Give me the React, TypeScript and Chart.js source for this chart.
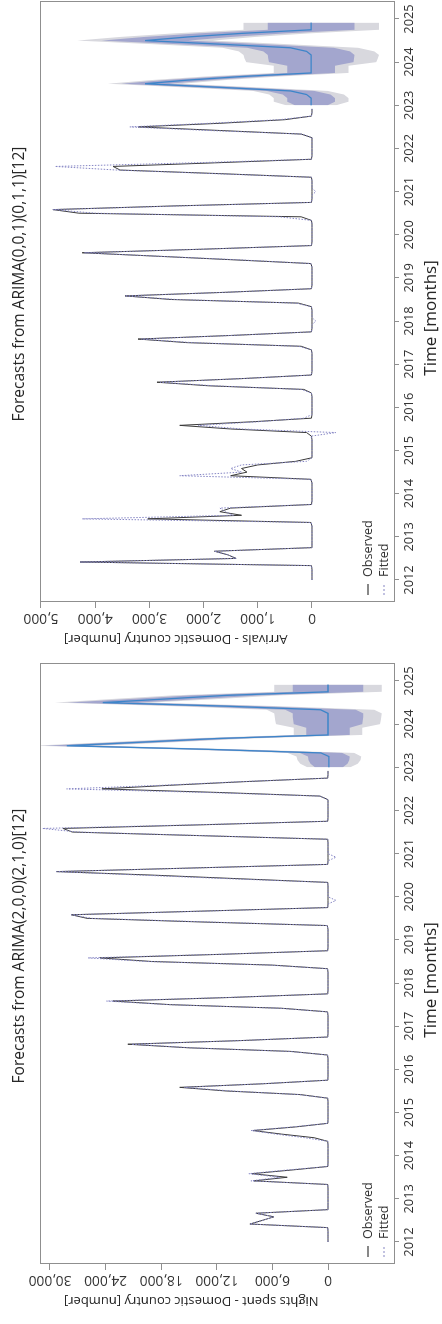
import React, { useEffect, useRef } from "react";
import { Chart, registerables } from "chart.js";

Chart.register(...registerables);

// ---------------- data ----------------
const START_YEAR = 2012;
const yearTicks = [2012, 2013, 2014, 2015, 2016, 2017, 2018, 2019, 2020, 2021, 2022, 2023, 2024, 2025];
const arrivalsTicks = [0, 1000, 2000, 3000, 4000, 5000];
const nightsTicks = [0, 6000, 12000, 18000, 24000, 30000];

// Arrivals - Domestic country, monthly 2012-01 .. 2022-12
const arrivalsObserved = [
  0, 0, 0, 0, 10, 4280, 1400, 1550, 1800, 0, 0, 0,
  0, 0, 0, 0, 20, 3030, 1300, 1700, 1500, 10, 0, 0,
  0, 0, 0, 0, 20, 1500, 1200, 1300, 1000, 300, 0, 0,
  0, 0, 0, 0, 10, 100, 1500, 2440, 1100, 10, 0, 0,
  0, 0, 0, 0, 10, 150, 1900, 2860, 1300, 10, 0, 0,
  0, 0, 0, 0, 10, 200, 2300, 3210, 1500, 10, 0, 0,
  0, 0, 0, 0, 10, 250, 2600, 3450, 1600, 10, 0, 0,
  0, 0, 0, 0, 20, 1400, 2800, 4240, 2000, 10, 0, 0,
  0, 0, 0, 0, 10, 200, 4300, 4780, 2600, 10, 0, 0,
  0, 0, 0, 0, 10, 1700, 3540, 3670, 1800, 10, 0, 0,
  0, 0, 0, 0, 200, 1700, 3210, 1700, 500, 10, 0, 0,
];
const arrivalsFitted = [
  0, 0, 0, 0, 10, 4280, 1400, 1550, 1800, 0, 0, 0,
  0, 0, 0, 0, 15, 4240, 1450, 1600, 1700, 5, 0, 0,
  0, 0, 0, 0, 20, 2440, 1300, 1500, 1300, 100, 0, 0,
  0, 0, 0, 0, 20, -440, 1300, 2100, 1000, 150, 0, 0,
  0, 0, 0, 0, 10, 200, 1800, 2800, 1300, 10, 0, 0,
  0, 0, 0, 0, 10, 250, 2200, 3150, 1500, 10, 0, 0,
  -70, 0, 0, 0, 10, 300, 2500, 3450, 1600, 10, 0, 0,
  0, 0, 0, 0, 20, 1300, 2800, 4200, 2000, 10, 0, 0,
  0, 0, 0, 0, 10, 600, 4000, 4780, 2500, 10, 0, 0,
  -70, 0, 0, 0, 10, 1800, 3600, 4740, 2200, 10, 0, 0,
  0, 0, 0, 0, 180, 1900, 3360, 1900, 600, 10, 0, 0,
];
// forecasts 2023-01 .. 2024-12
const arrivalsForecast = [
  15, 15, 15, 100, 400, 1700, 3080, 2300, 1300, 15, 15, 15,
  15, 15, 15, 100, 400, 1700, 3080, 2300, 1300, 15, 15, 15,
];
const arrivalsLo80 = [
  -285, -425, -425, -340, -40, 1260, 2640, 1860, 860, -425, -425, -425,
  -765, -775, -785, -700, -400, 900, 2280, 1500, 500, -785, -785, -785,
];
const arrivalsHi80 = [
  315, 455, 455, 540, 840, 2140, 3520, 2740, 1740, 455, 455, 455,
  795, 805, 815, 900, 1200, 2500, 3880, 3100, 2100, 815, 815, 815,
];
const arrivalsLo95 = [
  -445, -675, -675, -590, -290, 1010, 2390, 1610, 610, -675, -675, -675,
  -1185, -1215, -1235, -1150, -850, 450, 1830, 1050, 50, -1235, -1235, -1235,
];
const arrivalsHi95 = [
  475, 705, 705, 790, 1090, 2390, 3770, 2990, 1990, 705, 705, 705,
  1215, 1245, 1265, 1350, 1650, 2950, 4330, 3550, 2550, 1265, 1265, 1265,
];

// Nights spent - Domestic country, monthly 2012-01 .. 2022-12
const nightsObserved = [
  0, 0, 0, 0, 30, 8430, 7100, 5840, 7780, 0, 0, 0,
  0, 0, 0, 0, 30, 8000, 4400, 8200, 4000, 20, 0, 0,
  0, 0, 0, 0, 30, 1500, 5000, 8100, 3500, 20, 0, 0,
  0, 0, 0, 0, 30, 3000, 11000, 16000, 7000, 20, 0, 0,
  0, 0, 0, 0, 50, 4000, 15000, 21600, 9500, 30, 0, 0,
  0, 0, 0, 0, 50, 5000, 17000, 23200, 10500, 30, 0, 0,
  0, 0, 0, 0, 50, 6000, 19000, 24600, 11500, 30, 0, 0,
  0, 0, 0, 0, 80, 13800, 26000, 27700, 13800, 30, 0, 0,
  0, 0, 0, 0, 30, 9400, 18700, 29300, 14700, 30, 0, 0,
  0, 0, 0, 0, 30, 13800, 27600, 28600, 13800, 30, 0, 0,
  0, 0, 0, 0, 860, 11700, 24400, 17100, 9100, 30, 0, 0,
];
const nightsFitted = [
  0, 0, 0, 0, 30, 8430, 7100, 5840, 7780, 0, 0, 0,
  0, 0, 0, 0, 30, 8320, 5200, 8540, 4500, 20, 0, 0,
  0, 0, 0, 0, 30, 2500, 5600, 8300, 3800, 20, 0, 0,
  0, 0, 0, 0, 30, 3200, 10500, 15500, 7200, 20, 0, 0,
  0, 0, 0, 0, 50, 4200, 14800, 21200, 9600, 30, 0, 0,
  0, 0, 0, 0, 50, 5200, 17200, 23900, 10800, 30, 0, 0,
  0, 0, 0, 0, 50, 6300, 19500, 25900, 11800, 30, 0, 0,
  0, 0, 0, 0, 80, 13000, 25500, 27700, 13500, 30, 0, -860,
  0, 0, 0, 0, 30, 10500, 20000, 29300, 14500, 30, 0, -860,
  0, 0, 0, 0, 30, 13500, 27000, 30800, 14500, 30, 0, 0,
  0, 0, 0, 0, 900, 13000, 28200, 18000, 9500, 30, 0, 0,
];
const nightsForecast = [
  -100, -100, -100, -100, 760, 13000, 28200, 20000, 12000, 0, 0, 0,
  0, 0, 0, 0, 800, 11000, 24300, 17500, 11000, 0, 0, 0,
];
const nightsLo80 = [
  -1600, -2100, -2300, -2350, -1540, 10700, 25850, 17650, 9650, -2350, -2350, -2350,
  -3700, -3750, -3800, -3800, -3000, 7200, 20500, 13700, 7200, -3800, -3800, -3800,
];
const nightsHi80 = [
  1400, 1900, 2100, 2150, 3060, 15300, 30550, 22350, 14350, 2350, 2350, 2350,
  3700, 3750, 3800, 3800, 4600, 14800, 28100, 21300, 14800, 3800, 3800, 3800,
];
const nightsLo95 = [
  -2400, -3200, -3500, -3600, -2840, 9400, 24550, 16350, 8300, -3700, -3700, -3700,
  -5600, -5700, -5750, -5800, -5000, 5200, 19100, 11700, 5200, -5800, -5800, -5800,
];
const nightsHi95 = [
  2200, 3000, 3300, 3400, 4360, 16600, 31850, 23650, 15700, 3700, 3700, 3700,
  5600, 5700, 5750, 5800, 6600, 16800, 29500, 23300, 16800, 5800, 5800, 5800,
];

// ---------------- styling ----------------
const BLUE = "#3d85c9";
const OBS = "#3a3a3a";
const FIT = "#8585c4";
const DARK_BAND = "rgba(163,166,206,1)";
const LIGHT_BAND = "rgba(216,216,222,1)";
const FRAME = "#8f8f8f";
const TEXT = "#262626";
const FONT = "'Open Sans', 'DejaVu Sans', sans-serif";

const W = 662;
const H = 442;

type Panel = {
  title: string;
  yTitle: string;
  ticks: number[];
  min: number;
  max: number;
  observed: number[];
  fitted: number[];
  forecast: number[];
  lo80: number[];
  hi80: number[];
  lo95: number[];
  hi95: number[];
};

const panels: Panel[] = [
  {
    title: "Forecasts from ARIMA(0,0,1)(0,1,1)[12]",
    yTitle: "Arrivals - Domestic country [number]",
    ticks: arrivalsTicks,
    min: -1513,
    max: 5018,
    observed: arrivalsObserved,
    fitted: arrivalsFitted,
    forecast: arrivalsForecast,
    lo80: arrivalsLo80,
    hi80: arrivalsHi80,
    lo95: arrivalsLo95,
    hi95: arrivalsHi95,
  },
  {
    title: "Forecasts from ARIMA(2,0,0)(2,1,0)[12]",
    yTitle: "Nights spent - Domestic country [number]",
    ticks: nightsTicks,
    min: -7122,
    max: 31079,
    observed: nightsObserved,
    fitted: nightsFitted,
    forecast: nightsForecast,
    lo80: nightsLo80,
    hi80: nightsHi80,
    lo95: nightsLo95,
    hi95: nightsHi95,
  },
];

const pts = (arr: number[], offset: number) =>
  arr.map((v, i) => ({ x: START_YEAR + (offset + i) / 12, y: v }));

function textPlugin(p: Panel) {
  return {
    id: "rText",
    afterDraw(chart: any) {
      const ctx = chart.ctx as CanvasRenderingContext2D;
      const area = chart.chartArea;
      const xs = chart.scales.x;
      const ys = chart.scales.y;
      ctx.save();
      // frame
      ctx.strokeStyle = FRAME;
      ctx.lineWidth = 1;
      ctx.strokeRect(Math.round(area.left) + 0.5, Math.round(area.top) + 0.5,
        Math.round(area.right - area.left) - 1, Math.round(area.bottom - area.top));
      ctx.fillStyle = TEXT;
      // title
      ctx.font = `15.5px ${FONT}`;
      ctx.textAlign = "center";
      ctx.textBaseline = "middle";
      ctx.fillText(p.title, 378, 20);
      // x tick labels
      ctx.font = `12.8px ${FONT}`;
      ctx.fillStyle = "#333";
      for (const t of xs.ticks) {
        ctx.fillText(String(t.value), xs.getPixelForValue(t.value), 409);
      }
      // x title
      ctx.fillStyle = TEXT;
      ctx.font = `17px ${FONT}`;
      ctx.fillText("Time [months]", 344, 431);
      // y tick labels (rotated)
      ctx.font = `13.8px ${FONT}`;
      ctx.fillStyle = "#333";
      for (const t of ys.ticks) {
        const y = ys.getPixelForValue(t.value);
        ctx.save();
        ctx.translate(44, y);
        ctx.rotate(-Math.PI / 2);
        ctx.fillText(Number(t.value).toLocaleString("en-US"), 0, 0);
        ctx.restore();
      }
      // y title
      ctx.fillStyle = TEXT;
      ctx.font = `13px ${FONT}`;
      ctx.save();
      ctx.translate(23, 64);
      ctx.rotate(-Math.PI / 2);
      ctx.textAlign = "right";
      ctx.fillText(p.yTitle, 0, 0);
      ctx.restore();
      // legend
      ctx.font = `12.6px ${FONT}`;
      ctx.textAlign = "left";
      const rows = [
        { label: "Observed", color: OBS, dash: [] as number[], y: 368 },
        { label: "Fitted", color: FIT, dash: [2, 2], y: 384 },
      ];
      for (const r of rows) {
        ctx.beginPath();
        ctx.setLineDash(r.dash);
        ctx.strokeStyle = r.color;
        ctx.lineWidth = 1.2;
        ctx.moveTo(67, r.y);
        ctx.lineTo(78, r.y);
        ctx.stroke();
        ctx.setLineDash([]);
        ctx.fillStyle = "#333";
        ctx.fillText(r.label, 85, r.y + 0.5);
      }
      ctx.restore();
    },
  };
}

function ForecastChart({ panel }: { panel: Panel }) {
  const ref = useRef<HTMLCanvasElement | null>(null);
  useEffect(() => {
    if (!ref.current) return;
    const yTicks = panel.ticks;
    const chart = new Chart(ref.current, {
      type: "line",
      data: {
        datasets: [
          { label: "Forecast", data: pts(panel.forecast, 132), borderColor: BLUE, borderWidth: 1.3, order: 0 },
          { label: "Fitted", data: pts(panel.fitted, 0), borderColor: FIT, borderWidth: 1, borderDash: [1.5, 1.5], order: 1 },
          { label: "Observed", data: pts(panel.observed, 0), borderColor: OBS, borderWidth: 1, order: 2 },
          { label: "hi80", data: pts(panel.hi80, 132), borderWidth: 0, borderColor: "rgba(0,0,0,0)", backgroundColor: DARK_BAND, fill: "+1", order: 3 },
          { label: "lo80", data: pts(panel.lo80, 132), borderWidth: 0, borderColor: "rgba(0,0,0,0)", order: 3 },
          { label: "hi95", data: pts(panel.hi95, 132), borderWidth: 0, borderColor: "rgba(0,0,0,0)", backgroundColor: LIGHT_BAND, fill: "+1", order: 4 },
          { label: "lo95", data: pts(panel.lo95, 132), borderWidth: 0, borderColor: "rgba(0,0,0,0)", order: 4 },
        ] as any,
      },
      options: {
        animation: false,
        responsive: false,
        devicePixelRatio: 1,
        elements: { point: { radius: 0 }, line: { tension: 0 } },
        layout: { padding: { top: 40, right: 1, left: 0, bottom: 0 } },
        plugins: { legend: { display: false }, tooltip: { enabled: false }, title: { display: false } },
        scales: {
          x: {
            type: "linear",
            min: 2011.49,
            max: 2025.417,
            grid: { display: true, drawOnChartArea: false, drawTicks: true, tickLength: 5, color: FRAME },
            border: { display: false },
            ticks: { display: false },
            afterBuildTicks: (s: any) => { s.ticks = yearTicks.map((v) => ({ value: v })); },
            afterFit: (s: any) => { s.height = 48; },
          },
          y: {
            type: "linear",
            min: panel.min,
            max: panel.max,
            grid: { display: true, drawOnChartArea: false, drawTicks: true, tickLength: 6, color: FRAME },
            border: { display: false },
            ticks: { display: false },
            afterBuildTicks: (s: any) => { s.ticks = yTicks.map((v) => ({ value: v })); },
            afterFit: (s: any) => { s.width = 60; },
          },
        },
      } as any,
      plugins: [textPlugin(panel)],
    });
    return () => chart.destroy();
  }, [panel]);
  return <canvas ref={ref} width={W} height={H} style={{ width: W, height: H, display: "block" }} />;
}

export default function App() {
  return (
    <div style={{ position: "absolute", left: 0, top: 0, width: 442, height: 1324, background: "#fff", overflow: "hidden" }}>
      {panels.map((p, i) => (
        <div key={i} style={{ position: "absolute", left: 0, top: i * 662, width: 442, height: 662, overflow: "hidden" }}>
          <div style={{ position: "absolute", left: 0, top: 0, width: W, height: H, transformOrigin: "0 0", transform: `translate(0px, ${W}px) rotate(-90deg)` }}>
            <ForecastChart panel={p} />
          </div>
        </div>
      ))}
    </div>
  );
}
